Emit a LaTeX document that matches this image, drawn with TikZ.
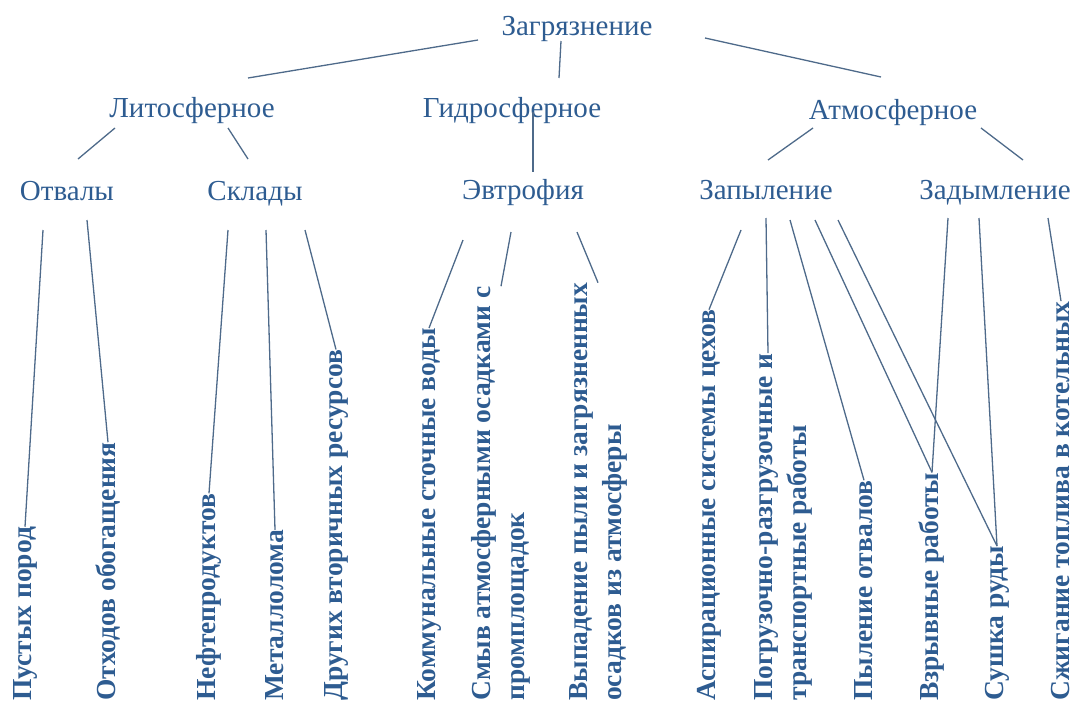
\documentclass[tikz,border=0pt]{standalone}
\usepackage{fontspec}
\setmainfont{Liberation Serif}
\definecolor{txtblue}{RGB}{46,92,145}
\definecolor{lineblue}{RGB}{78,106,138}

\begin{document}
\begin{tikzpicture}[x=1pt,y=-1pt,
    lvl/.style={inner sep=0pt, anchor=base, text=txtblue, font=\fontsize{29}{34}\selectfont},
    leaf/.style={inner sep=0pt, rotate=90, anchor=west, align=left, text=txtblue,
                 font=\bfseries\fontsize{27.5}{34}\selectfont},
    conn/.style={draw=lineblue, line width=1.3pt}]
    \useasboundingbox (0,0) rectangle (1076,704);

    % top levels
    \node[lvl] (zag) at (577,35) {Загрязнение};
    \node[lvl] (lit) at (192,117) {Литосферное};
    \node[lvl] (gid) at (512,117) {Гидросферное};
    \node[lvl] (atm) at (893,119) {Атмосферное};
    \node[lvl] (otv) at (67,200) {Отвалы};
    \node[lvl] (skl) at (255,200) {Склады};
    \node[lvl] (evt) at (523,199) {Эвтрофия};
    \node[lvl] (zap) at (766,199) {Запыление};
    \node[lvl] (zad) at (995,199) {Задымление};

    % rotated leaves
    \node[leaf] (pust) at (25,701) {Пустых пород};
    \node[leaf] (otx)  at (108,701) {Отходов обогащения};
    \node[leaf] (neft) at (209,701) {Нефтепродуктов};
    \node[leaf] (met)  at (275,701) {Металлолома};
    \node[leaf] (dru)  at (336,701) {Других вторичных ресурсов};
    \node[leaf] (kom)  at (429,701) {Коммунальные сточные воды};
    \node[leaf] (smyv) at (501,701) {Смыв атмосферными осадками с\\промплощадок};
    \node[leaf] (vyp)  at (598,701) {Выпадение пыли и загрязненных\\осадков из атмосферы};
    \node[leaf] (asp)  at (709,701) {Аспирационные системы цехов};
    \node[leaf] (pogr) at (783,701) {Погрузочно-разгрузочные и\\транспортные работы};
    \node[leaf] (pyl)  at (864,701) {Пыление отвалов};
    \node[leaf] (vzr)  at (932,701) {Взрывные работы};
    \node[leaf] (sush) at (997,701) {Сушка руды};
    \node[leaf] (szh)  at (1061,701) {Сжигание топлива в котельных};

    % first and second level
    \draw[conn] ([shift={(-99,5)}]zag.base) -- ([shift={(56,-39)}]lit.base);
    \draw[conn] ([shift={(-16,6)}]zag.base) -- ([shift={(47,-39)}]gid.base);
    \draw[conn] ([shift={(128,3)}]zag.base) -- ([shift={(-12,-42)}]atm.base);
    \draw[conn] ([shift={(-77,11)}]lit.base) -- ([shift={(11,-41)}]otv.base);
    \draw[conn] ([shift={(36,11)}]lit.base) -- ([shift={(-7,-41)}]skl.base);
    \draw[conn] ([shift={(21,-5)}]gid.base) -- ([shift={(10,-27)}]evt.base);
    \draw[conn] ([shift={(-80,9)}]atm.base) -- ([shift={(2,-39)}]zap.base);
    \draw[conn] ([shift={(88,9)}]atm.base) -- ([shift={(28,-39)}]zad.base);

    % leaves
    \draw[conn] ([shift={(-24,30)}]otv.base) -- (pust.east);
    \draw[conn] ([shift={(20,20)}]otv.base) -- (otx.east);
    \draw[conn] ([shift={(-27,30)}]skl.base) -- (neft.east);
    \draw[conn] ([shift={(11,30)}]skl.base) -- (met.east);
    \draw[conn] ([shift={(50,30)}]skl.base) -- (dru.east);
    \draw[conn] ([shift={(-60,41)}]evt.base) -- (kom.east);
    \draw[conn] ([shift={(-12,33)}]evt.base) -- (smyv.east);
    \draw[conn] ([shift={(54,33)}]evt.base) -- (vyp.east);
    \draw[conn] ([shift={(-25,31)}]zap.base) -- (asp.east);
    \draw[conn] ([shift={(0,19)}]zap.base) -- ([shift={(-15,0)}]pogr.east);
    \draw[conn] ([shift={(24,21)}]zap.base) -- (pyl.east);
    \draw[conn] ([shift={(49,21)}]zap.base) -- (vzr.east);
    \draw[conn] ([shift={(72,21)}]zap.base) -- (sush.east);
    \draw[conn] ([shift={(-47,19)}]zad.base) -- (vzr.east);
    \draw[conn] ([shift={(-16,19)}]zad.base) -- (sush.east);
    \draw[conn] ([shift={(53,19)}]zad.base) -- (szh.east);
\end{tikzpicture}
\end{document}
